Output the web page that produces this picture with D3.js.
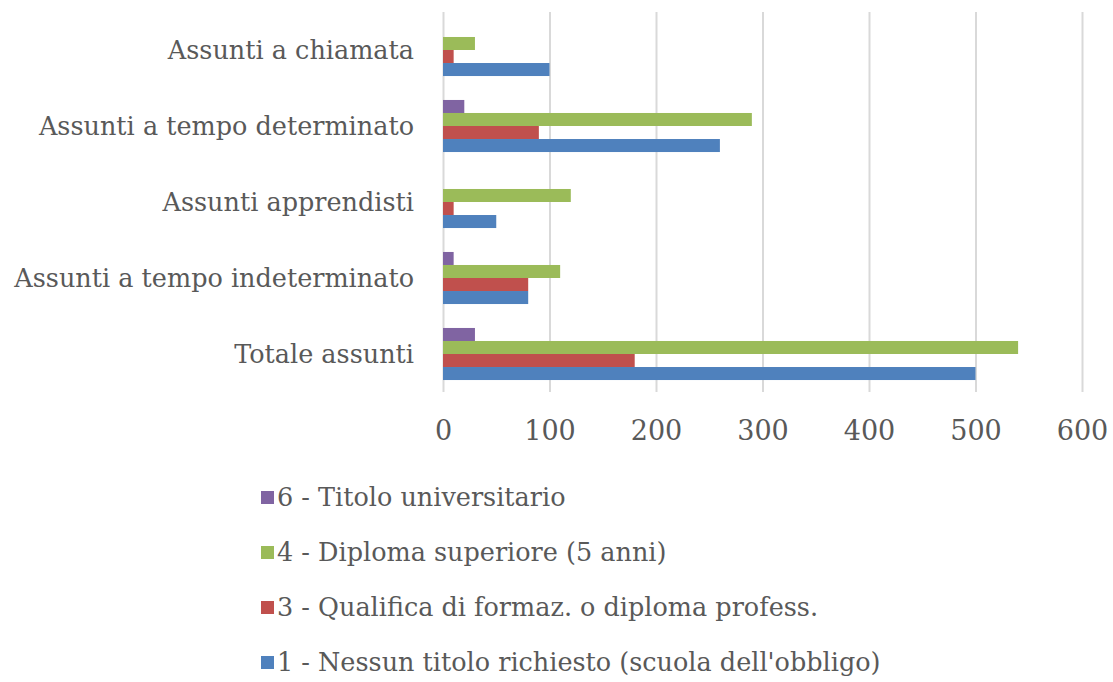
<!DOCTYPE html>
<html>
<head>
<meta charset="utf-8">
<script src="https://cdn.jsdelivr.net/npm/d3@7"></script>
<style>
  body { margin: 0; background: #fff; }
  svg text { font-family: "DejaVu Serif", "Liberation Serif", serif; fill: #595959; }
</style>
</head>
<body>
<svg id="chart"></svg>
<script>
// categories, top to bottom
var categories = ["Assunti a chiamata", "Assunti a tempo determinato", "Assunti apprendisti",
                  "Assunti a tempo indeterminato", "Totale assunti"];

// series names (legend order, also order of bars inside a group, top to bottom)
var seriesNames = ["6 - Titolo universitario", "4 - Diploma superiore (5 anni)",
                   "3 - Qualifica di formaz. o diploma profess.", "1 - Nessun titolo richiesto (scuola dell'obbligo)"];

// values per series, same order as categories
var titoloUniv  = [0, 20, 0, 10, 30];
var diplomaSup  = [30, 290, 120, 110, 540];
var qualifica   = [10, 90, 10, 80, 180];
var nessunTitolo = [100, 260, 50, 80, 500];

var xTicks = [0, 100, 200, 300, 400, 500, 600];

var seriesValues = [titoloUniv, diplomaSup, qualifica, nessunTitolo];
var colors = ["#8064a2", "#9bbb59", "#c0504d", "#4f81bd"];

var width = 1113, height = 682;

var svg = d3.select("#chart")
    .attr("width", width)
    .attr("height", height);

var x = d3.scaleLinear()
    .domain([0, 600])
    .range([443, 1082]);

var y = d3.scaleBand()
    .domain(categories)
    .range([12, 392])
    .paddingInner(0.315)
    .paddingOuter(0.1575);

var ySub = d3.scaleBand()
    .domain(d3.range(seriesNames.length))
    .range([0, y.bandwidth()]);

//gridlines + tick labels
var xAxis = d3.axisBottom(x)
    .tickValues(xTicks)
    .tickSize(-380)
    .tickPadding(29);

var gx = svg.append("g")
    .attr("transform", "translate(0,392)")
    .call(xAxis);
gx.select(".domain").remove();
gx.selectAll(".tick line")
    .attr("stroke", "#d9d9d9")
    .attr("stroke-width", 2);
gx.selectAll(".tick text")
    .attr("font-size", 27)
    .attr("fill", "#595959")
    .attr("font-family", "DejaVu Serif, Liberation Serif, serif");

//category labels
svg.append("g")
    .selectAll("text")
    .data(categories)
    .enter().append("text")
    .attr("x", 414)
    .attr("y", function (d) { return y(d) + y.bandwidth() / 2; })
    .attr("dy", "0.35em")
    .attr("text-anchor", "end")
    .attr("font-size", 25.5)
    .text(function (d) { return d; });

//bars
var groups = svg.append("g")
    .selectAll("g")
    .data(categories)
    .enter().append("g")
    .attr("transform", function (d) { return "translate(0," + y(d) + ")"; });

groups.selectAll("rect")
    .data(function (d, i) {
        return seriesValues.map(function (s, k) { return { k: k, v: s[i] }; });
    })
    .enter().append("rect")
    .attr("x", x(0))
    .attr("y", function (d) { return ySub(d.k); })
    .attr("width", function (d) { return x(d.v) - x(0); })
    .attr("height", ySub.bandwidth())
    .attr("fill", function (d) { return colors[d.k]; });

//legend
var legend = svg.append("g")
    .selectAll("g")
    .data(seriesNames)
    .enter().append("g")
    .attr("transform", function (d, i) { return "translate(261," + (497 + i * 55) + ")"; });

legend.append("rect")
    .attr("x", 0)
    .attr("y", -6)
    .attr("width", 13)
    .attr("height", 13)
    .attr("fill", function (d, i) { return colors[i]; });

legend.append("text")
    .attr("x", 16)
    .attr("y", 0)
    .attr("dy", "0.35em")
    .attr("font-size", 25.5)
    .text(function (d) { return d; });
</script>
</body>
</html>
